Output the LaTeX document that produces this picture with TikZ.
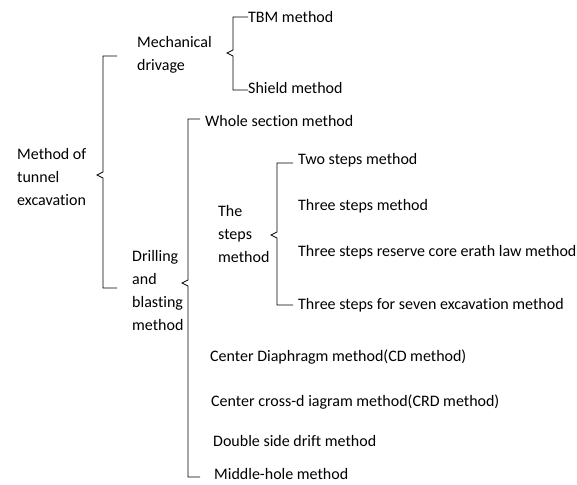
\documentclass[tikz,border=0pt]{standalone}
\usepackage{fontspec}
\setmainfont{Carlito}[Ligatures=NoCommon]
\usetikzlibrary{calc}

\begin{document}
\begin{tikzpicture}[
  x=1pt, y=-1pt,
  item/.style={anchor=west, inner sep=0pt, align=left, font=\fontsize{16}{23}\selectfont},
  bracket/.style={draw, line width=0.8pt, line join=miter}
]
\useasboundingbox (0,0) rectangle (577,484);

% labels
\node[item] (method) at (17,177) {Method of\\tunnel\\excavation};
\node[item] (mech) at (137,54.5) {Mechanical\\drivage};
\node[item] (drill) at (132,290) {Drilling\\and\\blasting\\method};
\node[item] (tbm) at (248,17) {TBM method};
\node[item] (shield) at (248,88) {Shield method};
\node[item] (whole) at (205,121) {Whole section method};
\node[item] (steps) at (218,234) {The\\steps\\method};
\node[item] (two) at (298,160) {Two steps method};
\node[item] (three) at (298,206) {Three steps method};
\node[item] (reserve) at (298,252) {Three steps reserve core erath law method};
\node[item] (seven) at (298,305) {Three steps for seven excavation method};
\node[item] (cd) at (210,357) {Center Diaphragm method(CD method)};
\node[item] (crd) at (211,402) {Center cross-d iagram method(CRD method)};
\node[item] (double) at (213,441) {Double side drift method};
\node[item] (middle) at (214,474) {Middle-hole method};

% bracket spines
\coordinate (b0) at (103,0);
\coordinate (b1) at (233,0);
\coordinate (b2) at (188,0);
\coordinate (b3) at (277,0);
\coordinate (n0) at ($(b0 |- method)+(0,-2)$);
\coordinate (n1) at ($(b1 |- mech)+(0,-1.5)$);
\coordinate (n2) at ($(b2 |- drill)+(0,-7)$);
\coordinate (n3) at ($(b3 |- steps)+(0,1)$);

\draw[bracket] ($(b0 |- mech)+(14,1.5)$) -- ($(b0 |- mech)+(0,1.5)$) -- ($(n0)+(0,-3)$)
  -- ($(n0)+(-6,0)$) -- ($(n0)+(0,3)$) -- ($(b0 |- drill)+(0,-2)$) -- ($(b0 |- drill)+(14,-2)$);
\draw[bracket] (tbm.west) -- (b1 |- tbm) -- ($(n1)+(0,-3)$)
  -- ($(n1)+(-6,0)$) -- ($(n1)+(0,3)$) -- ($(b1 |- shield)+(0,2)$) -- ($(shield.west)+(0,2)$);
\draw[bracket] ($(b2 |- whole)+(12,-2)$) -- ($(b2 |- whole)+(0,-2)$) -- ($(n2)+(0,-3)$)
  -- ($(n2)+(-6,0)$) -- ($(n2)+(0,3)$) -- ($(b2 |- middle)+(0,3)$) -- ($(b2 |- middle)+(12,3)$);
\draw[bracket] ($(b3 |- two)+(16,3)$) -- ($(b3 |- two)+(0,3)$) -- ($(n3)+(0,-3)$)
  -- ($(n3)+(-6,0)$) -- ($(n3)+(0,3)$) -- (b3 |- seven) -- ($(b3 |- seven)+(16,0)$);
\end{tikzpicture}
\end{document}
